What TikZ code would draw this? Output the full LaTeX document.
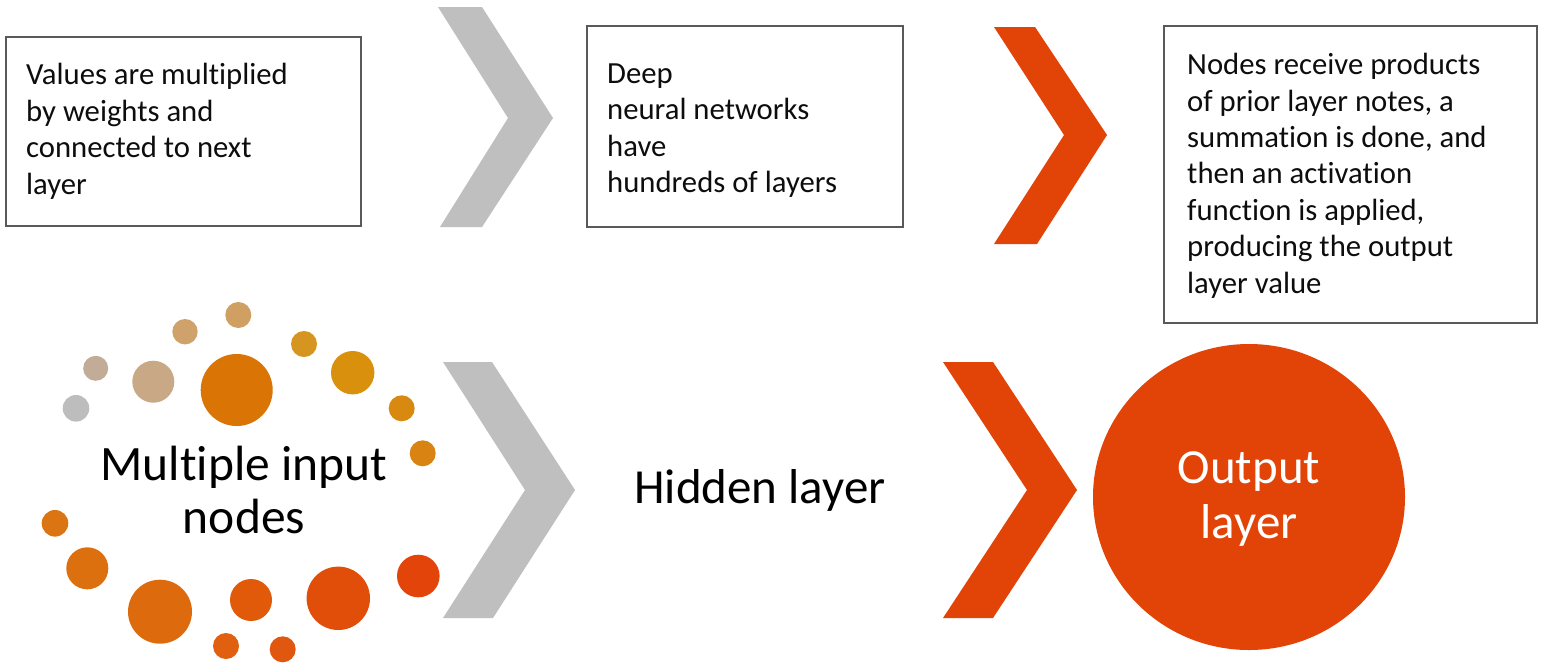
\documentclass[tikz,border=0pt]{standalone}
\usepackage{fontspec}
\setmainfont{Carlito}[Ligatures=NoCommon]
\usetikzlibrary{shapes.geometric}
\definecolor{redo}{HTML}{E24306}
\definecolor{grayc}{HTML}{BFBFBF}
\definecolor{boxline}{HTML}{595959}
\definecolor{c01}{HTML}{BDBDBD}
\definecolor{c02}{HTML}{C2AC98}
\definecolor{c03}{HTML}{C9A886}
\definecolor{c04}{HTML}{CFA26C}
\definecolor{c05}{HTML}{D0A062}
\definecolor{c06}{HTML}{DA7404}
\definecolor{c07}{HTML}{D69420}
\definecolor{c08}{HTML}{D9900C}
\definecolor{c09}{HTML}{D88A10}
\definecolor{c10}{HTML}{D98312}
\definecolor{c11}{HTML}{DB7412}
\definecolor{c12}{HTML}{DC700E}
\definecolor{c13}{HTML}{DE6A0E}
\definecolor{c14}{HTML}{E05A0A}
\definecolor{c15}{HTML}{E06010}
\definecolor{c16}{HTML}{E05810}
\definecolor{c17}{HTML}{E04E0A}
\definecolor{c18}{HTML}{E2440A}
\tikzset{
  txtbox/.style={draw=boxline, line width=1.4pt, fill=none, inner sep=0pt},
  bodytxt/.style={font=\fontsize{30.7}{36.4}\selectfont, align=left, inner sep=0pt, text=black!95},
  bigtxt/.style={font=\fontsize{49.5}{52.5}\selectfont, align=center, inner sep=0pt},
  chevgray/.style={fill=grayc, draw=none},
  chevred/.style={fill=redo, draw=none},
  dot/.style={circle, draw=none, inner sep=0pt}
}
\begin{document}
\begin{tikzpicture}[x=1pt,y=-1pt]
\useasboundingbox (0,0) rectangle (1541,665);
\fill[white] (0,0) rectangle (1541,665);

% top row boxes (text nodes anchored at the baseline of their last line)
\node[txtbox, minimum width=355pt, minimum height=189pt] (box1) at (183.5,131.5) {};
\node[bodytxt, anchor=base west] (t1) at (26,194) {Values are multiplied\\by weights and\\connected to next\\layer};

\node[txtbox, minimum width=316pt, minimum height=201pt] (box2) at (745,126.5) {};
\node[bodytxt, anchor=base west] (t2) at (607,192.5) {Deep\\neural networks\\have\\hundreds of layers};

\node[txtbox, minimum width=373pt, minimum height=297pt] (box3) at (1350.5,174.5) {};
\node[bodytxt, anchor=base west] (t3) at (1187,293) {Nodes receive products\\of prior layer notes, a\\summation is done, and\\then an activation\\function is applied,\\producing the output\\layer value};

% top chevrons
\fill[chevgray] (438,7) -- (482,7) -- (553,118) -- (482,227) -- (440,227) -- (508,118) -- cycle;
\fill[chevred] (994,27) -- (1035,27) -- (1107,135) -- (1037,244) -- (994,244) -- (1064,135) -- cycle;

% bottom chevrons
\fill[chevgray] (443,362) -- (492,362) -- (575,490) -- (493,618) -- (443,618) -- (525,490) -- cycle;
\fill[chevred] (943,362) -- (993,362) -- (1077,490) -- (993,618) -- (943,618) -- (1027,490) -- cycle;

% input dots
\node[dot, fill=c01, minimum size=26.6pt] (d01) at (76,408.3) {};
\node[dot, fill=c02, minimum size=25pt]   (d02) at (95.7,368.3) {};
\node[dot, fill=c03, minimum size=42pt]   (d03) at (153.3,381.7) {};
\node[dot, fill=c04, minimum size=25.4pt] (d04) at (185,331.7) {};
\node[dot, fill=c05, minimum size=26pt]   (d05) at (238.3,315) {};
\node[dot, fill=c06, minimum size=72pt]   (d06) at (236.7,390) {};
\node[dot, fill=c07, minimum size=26pt]   (d07) at (304,344) {};
\node[dot, fill=c08, minimum size=43.4pt] (d08) at (352.7,372.7) {};
\node[dot, fill=c09, minimum size=26pt]   (d09) at (401.7,408.3) {};
\node[dot, fill=c10, minimum size=26pt]   (d10) at (422.7,453.3) {};
\node[dot, fill=c11, minimum size=26.6pt] (d11) at (55,523.3) {};
\node[dot, fill=c12, minimum size=42pt]   (d12) at (87.3,568.3) {};
\node[dot, fill=c13, minimum size=64pt]   (d13) at (160,611.7) {};
\node[dot, fill=c14, minimum size=42pt]   (d14) at (251,600) {};
\node[dot, fill=c15, minimum size=26pt]   (d15) at (226,646) {};
\node[dot, fill=c16, minimum size=26pt]   (d16) at (282.7,649.3) {};
\node[dot, fill=c17, minimum size=63.4pt] (d17) at (338.3,598.3) {};
\node[dot, fill=c18, minimum size=42.6pt] (d18) at (418.3,576) {};

% big labels
\node[bigtxt, anchor=base] (inp) at (244,533) {Multiple input\\nodes};
\node[bigtxt, anchor=base, font=\fontsize{49}{53}\selectfont] (hid) at (760,503) {Hidden layer};
\node[ellipse, fill=redo, draw=none, minimum width=312pt, minimum height=306pt, inner sep=0pt] (out) at (1249,497) {};
\node[bigtxt, anchor=base, text=white, font=\fontsize{49}{55}\selectfont] (outt) at (1249,538) {Output\\layer};
\end{tikzpicture}
\end{document}
